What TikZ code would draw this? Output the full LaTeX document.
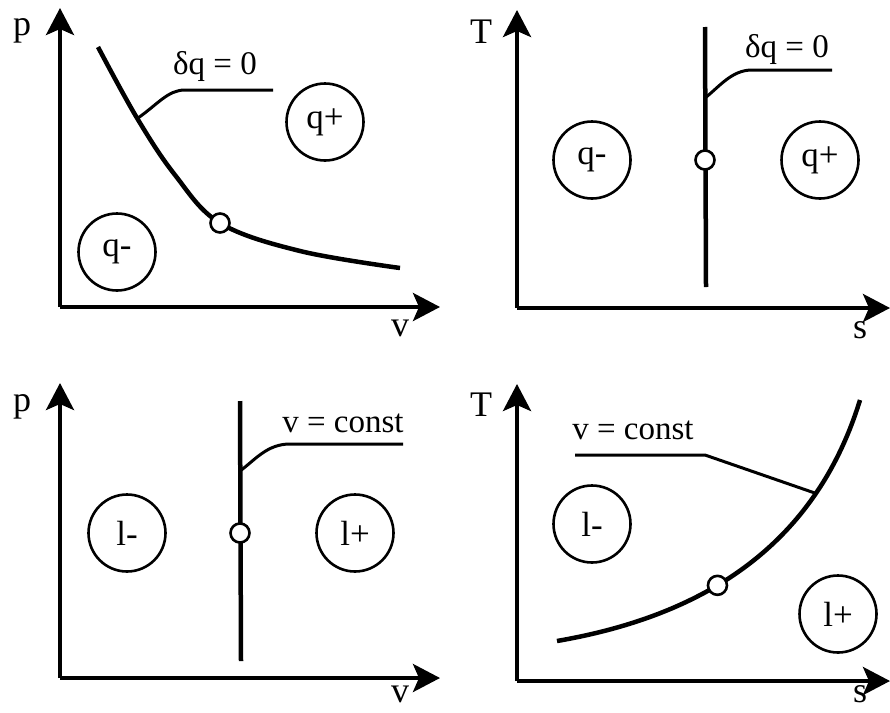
\documentclass[tikz,border=0pt]{standalone}
\usepackage{fontspec}
\setmainfont{Liberation Serif}
\usetikzlibrary{arrows.meta}
\begin{document}
\begin{tikzpicture}[x=1pt,y=-1pt,
  axis/.style={line width=4pt,-{Stealth[length=27pt,width=28pt,inset=6pt]}},
  curve/.style={line width=4.5pt},
  leader/.style={line width=3pt},
  region/.style={circle,draw,line width=2.6pt,minimum size=77pt,inner sep=0pt,font=\fontsize{35}{35}\selectfont},
  dot/.style={circle,draw,fill=white,line width=2.6pt,minimum size=19pt,inner sep=0pt},
  lbl/.style={font=\fontsize{36}{36}\selectfont,inner sep=0pt},
  eq/.style={font=\fontsize{33}{33}\selectfont,inner sep=0pt}]
\useasboundingbox (0,0) rectangle (890,712);
% ---------- panel 1: p-v, adiabat ----------
\coordinate (o1) at (60,307);
\coordinate (y1) at (60,8);
\coordinate (x1) at (440,307);
\draw[axis] (o1) -- (y1);
\draw[axis] (o1) -- (x1);
\node[lbl] (p1) at (22,31) {p};
\node[lbl] (v1) at (400,328) {v};
\draw[curve] plot[smooth,tension=0.6] coordinates {(98,47) (137,118) (175,175) (220,223) (300,251) (400,268)};
\node[dot] (d1) at (220,223) {};
\coordinate (c1) at (138,118);
\coordinate (e1) at (273,90);
\draw[leader] (c1) .. controls (158,104) and (168,90) .. (185,90) -- (e1);
\node[eq] (t1) at (215,66) {δq = 0};
\node[region] (qp1) at (325,122) {q+};
\node[region] (qm1) at (117,252) {q-};
% ---------- panel 2: T-s, adiabat ----------
\coordinate (o2) at (517,308);
\coordinate (y2) at (517,10);
\coordinate (x2) at (890,308);
\draw[axis] (o2) -- (y2);
\draw[axis] (o2) -- (x2);
\node[lbl] (T2) at (481,32) {T};
\node[lbl] (s2) at (860,330) {s};
\coordinate (a2) at (705,27);
\coordinate (b2) at (706,287);
\draw[curve] (a2) -- (b2);
\node[dot] (d2) at (705,160) {};
\coordinate (c2) at (705,98);
\coordinate (e2) at (832,70);
\draw[leader] (c2) .. controls (720,86) and (732,70) .. (752,70) -- (e2);
\node[eq] (t2) at (787,49) {δq = 0};
\node[region] (qm2) at (592,160) {q-};
\node[region] (qp2) at (820,160) {q+};
% ---------- panel 3: p-v, isochore ----------
\coordinate (o3) at (60,678);
\coordinate (y3) at (60,383);
\coordinate (x3) at (440,678);
\draw[axis] (o3) -- (y3);
\draw[axis] (o3) -- (x3);
\node[lbl] (p3) at (22,407) {p};
\node[lbl] (v3) at (400,694) {v};
\coordinate (a3) at (240,401);
\coordinate (b3) at (241,661);
\draw[curve] (a3) -- (b3);
\node[dot] (d3) at (240,533) {};
\coordinate (c3) at (240,471);
\coordinate (e3) at (403,444);
\draw[leader] (c3) .. controls (255,460) and (267,444) .. (290,444) -- (e3);
\node[eq] (t3) at (343,423) {v = const};
\node[region] (lm3) at (127,533) {l-};
\node[region] (lp3) at (355,533) {l+};
% ---------- panel 4: T-s, isochore ----------
\coordinate (o4) at (517,681);
\coordinate (y4) at (517,384);
\coordinate (x4) at (890,681);
\draw[axis] (o4) -- (y4);
\draw[axis] (o4) -- (x4);
\node[lbl] (T4) at (481,405) {T};
\node[lbl] (s4) at (860,694) {s};
\coordinate (f4) at (575,455);
\draw[curve] (557,641) .. controls (690,618) and (812,556) .. (860,400)
  coordinate[pos=0.77] (c4);
\draw[leader] (f4) -- (705,455) -- (c4);
\path (557,641) .. controls (690,618) and (812,556) .. (860,400)
  node[dot,pos=0.43] (d4) {};
\node[eq] (t4) at (633,430) {v = const};
\node[region] (lm4) at (592,524) {l-};
\node[region] (lp4) at (838,614) {l+};
\end{tikzpicture}
\end{document}
